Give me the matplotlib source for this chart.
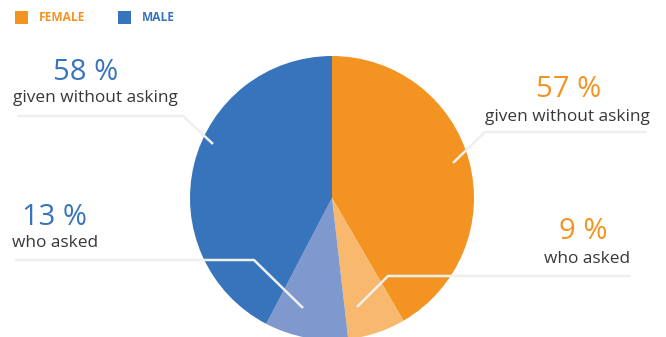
import matplotlib
matplotlib.use("Agg")
import matplotlib.pyplot as plt
from matplotlib.patches import Rectangle

plt.rcParams['font.family'] = ['Open Sans', 'DejaVu Sans']

# share of each group, female half first then male half
groups = ['FEMALE', 'MALE']
slice_labels = ['given without asking', 'who asked', 'who asked', 'given without asking']
slice_values = [57, 9, 13, 58]
slice_colors = ['#F39422', '#F8B86D', '#7F99CF', '#3874BB']
text_colors = ['#F39422', '#F39422', '#3874BB', '#3874BB']

W, H = 666, 337


def py(y):
    # pixel rows count down from the top
    return H - y


fig = plt.figure(figsize=(W / 100, H / 100), dpi=100)
ax = fig.add_axes([0, 0, 1, 1])

ax.pie(slice_values, colors=slice_colors, startangle=90, counterclock=False,
       center=(332, py(198)), radius=142, frame=True,
       wedgeprops=dict(linewidth=0))
ax.set_xlim(0, W)
ax.set_ylim(0, H)
ax.set_aspect('equal')
ax.axis('off')

# callout lines
line_col = '#EEF0EF'
callouts = [
    [(647, 132), (485, 132), (453, 163)],
    [(631, 276), (388, 276), (357, 307)],
    [(15, 260), (254, 260), (303, 308)],
    [(17, 116), (183, 116), (213, 144)],
]
for pts in callouts:
    ax.plot([p[0] for p in pts], [py(p[1]) for p in pts], color=line_col,
            lw=1.8, solid_capstyle='butt', zorder=5)

# value and description labels: (value x, value baseline, text x, text baseline)
label_pos = [
    (569, 97, 567, 121),
    (583, 239, 587, 263),
    (55, 225, 55, 247),
    (86, 80, 95, 102),
]
for val, desc, col, (vx, vy, tx, ty) in zip(slice_values, slice_labels, text_colors, label_pos):
    ax.text(vx, py(vy), f'{val} %', color=col, fontsize=21, ha='center', va='baseline')
    ax.text(tx, py(ty), desc, color='#383838', fontsize=12.4, ha='center', va='baseline')

# legend
legend_pos = [(15, 39), (118, 142)]
for name, col, (sx, tx) in zip(groups, [slice_colors[0], slice_colors[3]], legend_pos):
    ax.add_patch(Rectangle((sx, py(24)), 13, 13, color=col, lw=0))
    ax.text(tx, py(17.5), name, color=col, fontsize=8.6, fontweight='bold',
            ha='left', va='center')

fig.savefig('out.png', dpi=100)
